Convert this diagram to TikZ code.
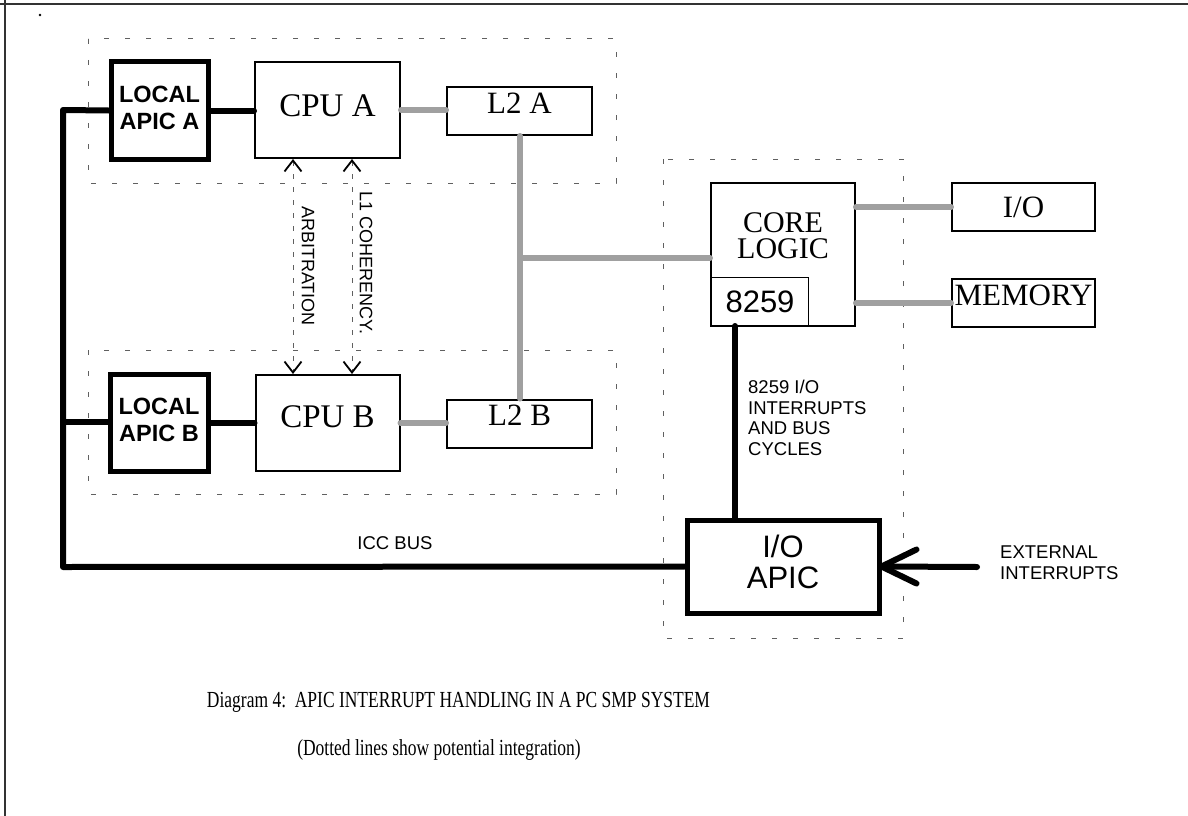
\documentclass[tikz,border=0pt]{standalone}
\usepackage{fontspec}
\setmainfont{Liberation Serif}
\setsansfont{Liberation Sans}
\usetikzlibrary{arrows.meta}
\definecolor{busgray}{HTML}{A0A0A0}
\definecolor{dashgray}{HTML}{606060}
\newcommand{\twolines}[3]{\raisebox{#1}{\begin{tabular}{@{}c@{}}#2\\#3\end{tabular}}}
\tikzset{
  thickbox/.style={draw=black, line width=5pt, fill=white, inner sep=0pt, align=center, font=\sffamily\bfseries\fontsize{23.5}{27}\selectfont},
  thinbox/.style={draw=black, line width=2pt, fill=white, inner sep=0pt, align=center, font=\fontsize{31}{25}\selectfont},
  cpubox/.style={draw=black, line width=2pt, fill=white, inner sep=0pt, align=center, font=\fontsize{33}{25}\selectfont},
  ioapicbox/.style={draw=black, line width=5pt, fill=white, inner sep=0pt, align=center, font=\sffamily\fontsize{31}{31}\selectfont},
  coreline/.style={font=\fontsize{30}{24}\selectfont, inner sep=0pt, text height=19pt, text depth=0pt, anchor=base},
  blackbus/.style={draw=black, line width=6pt, line cap=round, line join=round},
  graybus/.style={draw=busgray, line width=6pt, line cap=round},
  integ/.style={draw=dashgray, line width=1pt, dash pattern=on 5pt off 16pt},
  smalllabel/.style={font=\sffamily\fontsize{18.5}{20.5}\selectfont, inner sep=0pt, align=left},
  rotlabel/.style={font=\sffamily\fontsize{18}{20}\selectfont, inner sep=0pt, rotate=-90},
  capfont/.style={font=\fontsize{23}{26}\selectfont, inner sep=0pt},
  dashedarrow/.style={draw=dashgray, line width=1pt, dash pattern=on 5pt off 8pt,
     {Straight Barb[length=11pt,width=17pt,line width=1.8pt,color=black]}-{Straight Barb[length=11pt,width=17pt,line width=1.8pt,color=black]}},
}
\begin{document}
\begin{tikzpicture}[x=1pt,y=-1pt]
\useasboundingbox (0,0) rectangle (1188,816);
% page border (top and left)
\draw[line width=1.5pt, draw=black!80] (0,4) -- (1188,4);
\draw[line width=1.5pt, draw=black!80] (5,0) -- (5,816);
\fill (40,15) circle (1.3pt);

% integration boxes
\draw[integ] (88,39) rectangle (616,183);
\draw[integ] (88,350) rectangle (616,494);
\draw[integ] (663,159) rectangle (903,638);

% nodes
\node[thickbox, minimum width=97pt, minimum height=97pt] (lapicA) at (159.5,110.5) {\twolines{-3pt}{LOCAL}{APIC A}};
\node[cpubox, minimum width=145pt, minimum height=96pt, text depth=8pt] (cpuA) at (327.5,110) {CPU A};
\node[thinbox, minimum width=145pt, minimum height=48pt, text depth=16pt] (l2A) at (519.5,111) {L2 A};
\node[thickbox, minimum width=98pt, minimum height=97pt] (lapicB) at (159,422.5) {\twolines{-3pt}{LOCAL}{APIC B}};
\node[cpubox, minimum width=144pt, minimum height=96pt, text depth=12pt] (cpuB) at (327.5,423) {CPU B};
\node[thinbox, minimum width=145pt, minimum height=48pt, text depth=16pt] (l2B) at (519.5,423.5) {L2 B};
\node[thinbox, minimum width=144pt, minimum height=143pt] (core) at (783,254.5) {};
\node[coreline] (coreA) at (783,232) {CORE};
\node[coreline] (coreB) at (783,258) {LOGIC};
\node[draw=black, line width=1pt, minimum width=97pt, minimum height=48pt, inner sep=0pt, font=\sffamily\fontsize{31}{31}\selectfont, anchor=south west] (i8259) at (711,326) {8259};
\node[thinbox, minimum width=143pt, minimum height=48pt] (io) at (1023.5,207) {I/O};
\node[thinbox, minimum width=143pt, minimum height=48pt, text depth=15pt] (mem) at (1023.5,303) {MEMORY};
\node[ioapicbox, minimum width=192pt, minimum height=93pt] (ioapic) at (783,566.5) {\twolines{-3pt}{I/O}{APIC}};

% coordinates for bus corners
\coordinate (iccA) at (63,110);
\coordinate (iccB) at (63,422);
\coordinate (iccC) at (63,567);
\coordinate (l2j) at (520,258);
\coordinate (ext) at (977,567);

% connectors
\draw[blackbus] (lapicA.east) -- (lapicA.east -| cpuA.west);
\draw[blackbus] (lapicB.east) -- (lapicB.east -| cpuB.west);
\draw[blackbus] (lapicA.west) -- (iccA) -- (iccC) -- (ioapic.west);
\draw[blackbus] (iccB) -- (iccB -| lapicB.west);
\draw[blackbus] (i8259.south -| 735,0) -- (ioapic.north -| 735,0);

\draw[graybus] (cpuA.east) -- (cpuA.east -| l2A.west);
\draw[graybus] (cpuB.east) -- (cpuB.east -| l2B.west);
\draw[graybus] (l2A.south -| 520,0) -- (l2B.north -| 520,0);
\draw[graybus] (l2j) -- (l2j -| core.west);
\draw[graybus] (core.east |- 0,207) -- (io.west);
\draw[graybus] (core.east |- 0,303) -- (mem.west);

% external interrupt arrow
\draw[blackbus] (ext) -- (ioapic.east);
\draw[blackbus] ([shift={(35,-17)}]ioapic.east) -- (ioapic.east) -- ([shift={(35,17)}]ioapic.east);

% arbitration / coherency
\draw[dashedarrow] (cpuA.south -| 293,0) -- (cpuB.north -| 293,0);
\draw[dashedarrow] (cpuA.south -| 352,0) -- (cpuB.north -| 352,0);
\node[rotlabel] (arb) at (308,266) {ARBITRATION};
\node[rotlabel] (coh) at (366,263) {L1 COHERENCY.};

% labels
\node[smalllabel, anchor=north west] (lbl8259) at (748,380) {8259 I/O\\INTERRUPTS\\AND BUS\\CYCLES};
\node[smalllabel, anchor=base] (icc) at (395,549) {ICC BUS};
\node[smalllabel, anchor=north west] (extlbl) at (1000,546) {EXTERNAL\\INTERRUPTS};

% caption
\node[capfont] (cap1) at (458.5,702) {\scalebox{0.76}[1]{Diagram 4:\ \ APIC INTERRUPT HANDLING IN A PC SMP SYSTEM}};
\node[capfont] (cap2) at (439,750) {\scalebox{0.76}[1]{(Dotted lines show potential integration)}};
\end{tikzpicture}
\end{document}
